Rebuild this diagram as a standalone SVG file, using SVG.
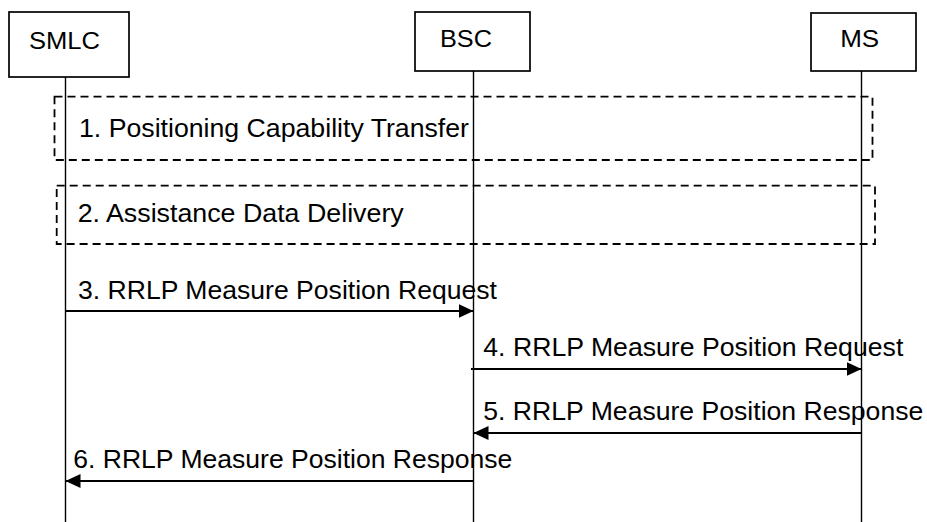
<svg xmlns="http://www.w3.org/2000/svg" width="927" height="522" viewBox="0 0 927 522">
<style>
.box{fill:#fff;stroke:#000;stroke-width:1.7}
.life{stroke:#000;stroke-width:1.4;fill:none}
.dash{fill:none;stroke:#000;stroke-width:1.8;stroke-dasharray:8 5}
.msg{stroke:#000;stroke-width:2.2;fill:none;marker-end:url(#ah)}
text{font-family:"Liberation Sans",Arial,sans-serif;fill:#000}
.nl{font-size:23px;text-anchor:middle}
.ml{font-size:25px}
</style>
<defs>
<marker id="ah" markerUnits="userSpaceOnUse" markerWidth="15" markerHeight="14" refX="15" refY="7" orient="auto">
<path d="M0,0 L15,7 L0,14 z" fill="#000"/>
</marker>
</defs>
<g id="lifelines">
<line class="life" x1="65.5" y1="77" x2="65.5" y2="522"/>
<line class="life" x1="473.5" y1="71" x2="473.5" y2="522"/>
<line class="life" x1="861.5" y1="71" x2="861.5" y2="522"/>
</g>
<g id="SMLC">
<rect class="box" x="9" y="12" width="120" height="65"/>
<text class="nl" x="64.5" y="49" textLength="71" lengthAdjust="spacingAndGlyphs">SMLC</text>
</g>
<g id="BSC">
<rect class="box" x="415" y="12" width="115" height="59"/>
<text class="nl" x="466" y="47" textLength="52" lengthAdjust="spacingAndGlyphs">BSC</text>
</g>
<g id="MS">
<rect class="box" x="811" y="13" width="105" height="58"/>
<text class="nl" x="859.7" y="47" textLength="39" lengthAdjust="spacingAndGlyphs">MS</text>
</g>
<g id="step1">
<rect class="dash" x="54.5" y="96.7" width="818" height="63.3"/>
<text class="ml" x="79" y="136.7" textLength="390" lengthAdjust="spacingAndGlyphs">1. Positioning Capability Transfer</text>
</g>
<g id="step2">
<rect class="dash" x="56.7" y="185.7" width="818.3" height="58.3"/>
<text class="ml" x="77.7" y="221.7" textLength="326" lengthAdjust="spacingAndGlyphs">2. Assistance Data Delivery</text>
</g>
<g id="connectors">
<line class="msg" x1="65.5" y1="311" x2="473.5" y2="311"/>
<line class="msg" x1="471" y1="369" x2="861.5" y2="369"/>
<line class="msg" x1="861.5" y1="433" x2="473.5" y2="433"/>
<line class="msg" x1="473.5" y1="481" x2="65.5" y2="481"/>
</g>
<g id="labels">
<text class="ml" x="78" y="299.3" textLength="419" lengthAdjust="spacingAndGlyphs">3. RRLP Measure Position Request</text>
<text class="ml" x="483.3" y="356" textLength="420" lengthAdjust="spacingAndGlyphs">4. RRLP Measure Position Request</text>
<text class="ml" x="483.3" y="420" textLength="440" lengthAdjust="spacingAndGlyphs">5. RRLP Measure Position Response</text>
<text class="ml" x="73.3" y="468" textLength="439" lengthAdjust="spacingAndGlyphs">6. RRLP Measure Position Response</text>
</g>
</svg>
